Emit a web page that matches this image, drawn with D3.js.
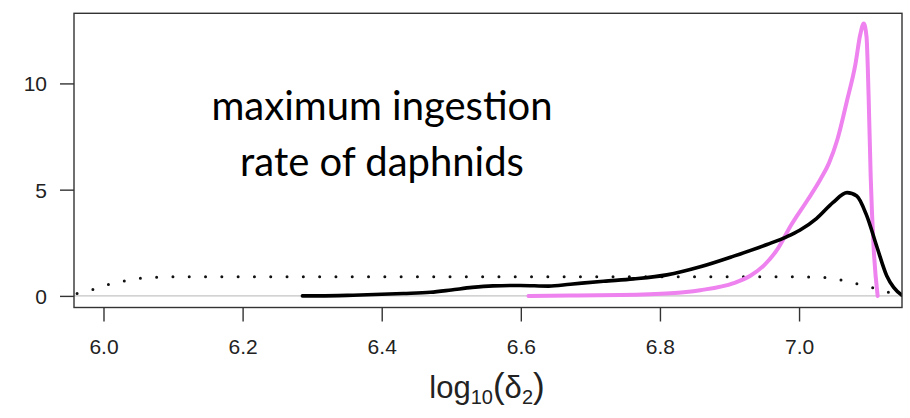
<!DOCTYPE html>
<html>
<head>
<meta charset="utf-8">
<script src="https://cdn.jsdelivr.net/npm/d3@7"></script>
<style>
  html, body { margin: 0; padding: 0; background: #fff; }
  svg { display: block; }
</style>
</head>
<body>
<svg id="chart" width="910" height="418"></svg>
<script>
// Posterior densities of log10(delta_2)
const blackX = [6.286, 6.311, 6.359, 6.431, 6.470, 6.500, 6.530, 6.560, 6.599, 6.640, 6.671, 6.719, 6.762, 6.810, 6.858, 6.906, 6.954, 6.982, 7.001, 7.025, 7.049, 7.069, 7.083, 7.097, 7.112, 7.126, 7.136, 7.148];
const blackY = [0.0, 0.0, 0.03, 0.11, 0.17, 0.28, 0.40, 0.47, 0.49, 0.46, 0.55, 0.69, 0.80, 0.99, 1.37, 1.87, 2.42, 2.78, 3.09, 3.64, 4.40, 4.86, 4.70, 3.80, 2.30, 0.95, 0.40, 0.03];

const pinkX = [6.611, 6.671, 6.743, 6.815, 6.858, 6.906, 6.930, 6.950, 6.970, 6.988, 7.012, 7.031, 7.043, 7.055, 7.069, 7.081, 7.088, 7.093, 7.097, 7.100, 7.103, 7.107, 7.113];
const pinkY = [0.0, 0.02, 0.04, 0.12, 0.27, 0.60, 0.95, 1.45, 2.25, 3.30, 4.50, 5.50, 6.25, 7.35, 9.20, 10.90, 12.30, 12.82, 12.20, 9.40, 5.60, 2.40, 0.0];

const priorX = [5.958, 5.962, 5.985, 6.008, 6.032, 6.054, 6.078, 6.100, 6.300, 6.500, 6.700, 6.900, 6.980, 7.030, 7.049, 7.072, 7.096, 7.119, 7.141, 7.148];
const priorY = [0.06, 0.11, 0.30, 0.54, 0.72, 0.83, 0.88, 0.90, 0.90, 0.90, 0.90, 0.90, 0.90, 0.88, 0.82, 0.66, 0.47, 0.27, 0.05, 0.0];

const xTicks = [6.0, 6.2, 6.4, 6.6, 6.8, 7.0];
const xTickLabels = ["6.0", "6.2", "6.4", "6.6", "6.8", "7.0"];
const yTicks = [0, 5, 10];
const yTickLabels = ["0", "5", "10"];
const noteLines = ["maximum ingestion", "rate of daphnids"];

const svg = d3.select("#chart");
const W = 910, H = 418;
const margin = { left: 74, top: 13.3, right: 8, bottom: 110.5 };
const plotW = W - margin.left - margin.right;
const plotH = H - margin.top - margin.bottom;

const x = d3.scaleLinear().domain([5.9576, 7.148]).range([0, plotW]);
const y = d3.scaleLinear().domain([-0.546, 13.30]).range([plotH, 0]);

const g = svg.append("g").attr("transform", `translate(${margin.left},${margin.top})`);

g.append("clipPath").attr("id", "plotClip")
  .append("rect").attr("x", 0).attr("y", 0).attr("width", plotW).attr("height", plotH);

const plot = g.append("g").attr("clip-path", "url(#plotClip)");

// zero reference line
plot.append("line")
  .attr("x1", 0).attr("x2", plotW)
  .attr("y1", y(0)).attr("y2", y(0))
  .attr("stroke", "#c4c4c4").attr("stroke-width", 1.2);

const line = d3.line()
  .x(d => x(d[0])).y(d => y(d[1]))
  .curve(d3.curveMonotoneX);

const zip = (a, b) => a.map((v, i) => [v, b[i]]);

plot.append("path")
  .datum(zip(priorX, priorY))
  .attr("d", line)
  .attr("fill", "none")
  .attr("stroke", "#111")
  .attr("stroke-width", 3)
  .attr("stroke-linecap", "round")
  .attr("stroke-dasharray", "0 16.3")
  .attr("stroke-dashoffset", -3);

plot.append("path")
  .datum(zip(pinkX, pinkY))
  .attr("d", line)
  .attr("fill", "none")
  .attr("stroke", "#ee82ee")
  .attr("stroke-width", 4)
  .attr("stroke-linejoin", "round")
  .attr("stroke-linecap", "round");

plot.append("path")
  .datum(zip(blackX, blackY))
  .attr("d", line)
  .attr("fill", "none")
  .attr("stroke", "#000")
  .attr("stroke-width", 3.6)
  .attr("stroke-linejoin", "round")
  .attr("stroke-linecap", "round");

// frame
g.append("rect")
  .attr("x", 0).attr("y", 0).attr("width", plotW).attr("height", plotH)
  .attr("fill", "none").attr("stroke", "#333").attr("stroke-width", 1.4);

const tickFont = "'Liberation Sans', Arial, sans-serif";

// x axis
const xAxis = g.append("g")
  .attr("transform", `translate(0,${plotH})`)
  .call(d3.axisBottom(x).tickValues(xTicks)
    .tickFormat((d, i) => xTickLabels[i]).tickSize(14).tickSizeOuter(0));
xAxis.select(".domain").remove();
xAxis.selectAll(".tick line").attr("stroke", "#333").attr("stroke-width", 1.4);
xAxis.selectAll(".tick text")
  .attr("y", 46).attr("dy", 0)
  .attr("fill", "#222")
  .style("font-family", tickFont).style("font-size", "21px");

// y axis
const yAxis = g.append("g")
  .call(d3.axisLeft(y).tickValues(yTicks)
    .tickFormat((d, i) => yTickLabels[i]).tickSize(14).tickSizeOuter(0));
yAxis.select(".domain").remove();
yAxis.selectAll(".tick line").attr("stroke", "#333").attr("stroke-width", 1.4);
yAxis.selectAll(".tick text")
  .attr("x", -27).attr("dy", "0.36em")
  .attr("fill", "#222")
  .style("font-family", tickFont).style("font-size", "21px");

// axis title: log10(δ2)
const title = svg.append("text")
  .attr("x", 487).attr("y", 398)
  .attr("text-anchor", "middle")
  .attr("fill", "#222")
  .style("font-family", tickFont)
  .style("font-size", "31px");
title.append("tspan").text("log");
title.append("tspan").attr("dy", 6).style("font-size", "20px").text("10");
title.append("tspan").attr("dy", -6).style("font-size", "35px").text("(");
title.append("tspan").text("δ");
title.append("tspan").attr("dy", 6).style("font-size", "20px").text("2");
title.append("tspan").attr("dy", -6).style("font-size", "35px").text(")");

// annotation
const note = svg.append("text")
  .attr("x", 382)
  .attr("text-anchor", "middle")
  .attr("fill", "#000")
  .style("font-family", "Lato, 'Open Sans', sans-serif")
  .style("font-size", "40px");
noteLines.forEach((t, i) => {
  note.append("tspan").attr("x", 382).attr("y", 120 + i * 56).text(t);
});
</script>
</body>
</html>
